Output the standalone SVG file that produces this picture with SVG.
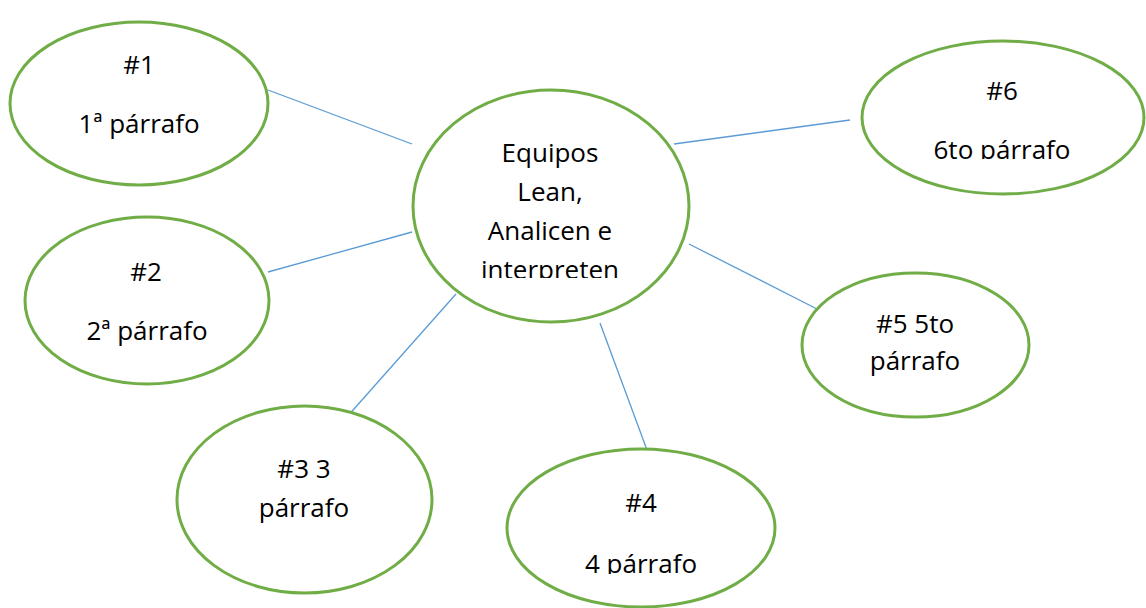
<svg xmlns="http://www.w3.org/2000/svg" width="1146" height="608" viewBox="0 0 1146 608">
<style>
.n{fill:#fff;stroke:#70AD47;stroke-width:3}
.c{stroke:#5B9BD5;stroke-width:1.3;fill:none}
text{font-family:"Open Sans","Noto Sans","Liberation Sans",sans-serif;font-size:26px;fill:#000;text-anchor:middle}
</style>
<defs>
<clipPath id="cc"><rect x="400" y="80" width="300" height="198"/></clipPath>
<clipPath id="c6"><rect x="850" y="40" width="296" height="119"/></clipPath>
<clipPath id="c4"><rect x="500" y="440" width="290" height="134"/></clipPath>
</defs>
<rect width="1146" height="608" fill="#fff"/>
<g id="connectors">
<line class="c" x1="268" y1="90" x2="412" y2="144"/>
<line class="c" x1="268" y1="272" x2="412" y2="232"/>
<line class="c" x1="456" y1="294" x2="346" y2="418"/>
<line class="c" x1="600" y1="323" x2="647" y2="450"/>
<line class="c" x1="689" y1="244" x2="817" y2="309"/>
<line class="c" x1="674" y1="144" x2="850" y2="120"/>
</g>
<g id="center">
<ellipse class="n" cx="551" cy="206" rx="138" ry="116"/>
<g clip-path="url(#cc)">
<text x="550" y="162">Equipos</text>
<text x="550" y="201">Lean,</text>
<text x="550" y="240">Analicen e</text>
<text x="550" y="279">interpreten</text>
</g>
</g>
<g id="n1">
<ellipse class="n" cx="139" cy="103.5" rx="129" ry="81.5"/>
<text x="139" y="74">#1</text>
<text x="139" y="133">1ª párrafo</text>
</g>
<g id="n2">
<ellipse class="n" cx="147" cy="300.5" rx="122" ry="83.5"/>
<text x="146" y="281">#2</text>
<text x="147" y="340">2ª párrafo</text>
</g>
<g id="n3">
<ellipse class="n" cx="304.5" cy="499.5" rx="127.5" ry="93.5"/>
<text x="304" y="478">#3 3</text>
<text x="304" y="517">párrafo</text>
</g>
<g id="n4">
<ellipse class="n" cx="641" cy="528" rx="134" ry="79"/>
<text x="641" y="512">#4</text>
<g clip-path="url(#c4)"><text x="641" y="573">4 párrafo</text></g>
</g>
<g id="n5">
<ellipse class="n" cx="915.5" cy="345" rx="113.5" ry="72"/>
<text x="915" y="333">#5 5to</text>
<text x="915" y="370">párrafo</text>
</g>
<g id="n6">
<ellipse class="n" cx="1003" cy="117.5" rx="141" ry="76.5"/>
<text x="1002" y="100">#6</text>
<g clip-path="url(#c6)"><text x="1002" y="159">6to párrafo</text></g>
</g>
</svg>
